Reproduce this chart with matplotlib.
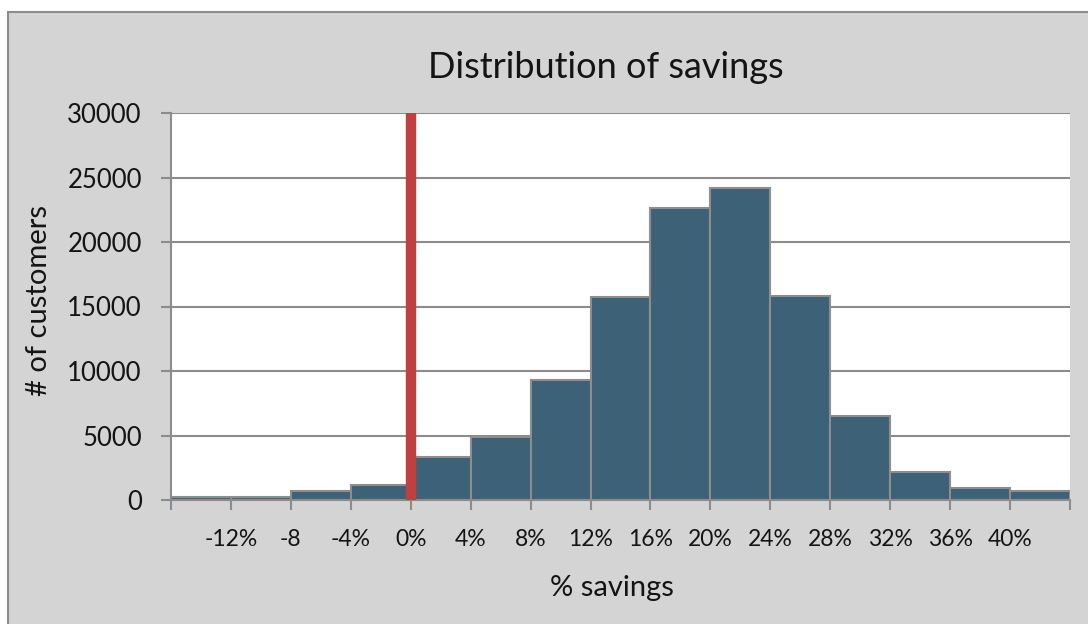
import numpy as np
import matplotlib.pyplot as plt
from matplotlib.patches import Rectangle

# histogram of customer savings, bins of 4 percentage points
bin_edges = [-16, -12, -8, -4, 0, 4, 8, 12, 16, 20, 24, 28, 32, 36, 40, 44]
counts = [200, 250, 700, 1200, 3300, 4900, 9300, 15700, 22600, 24200, 15800, 6500, 2150, 900, 700]
tick_labels = ['-12%', '-8', '-4%', '0%', '4%', '8%', '12%', '16%', '20%', '24%', '28%', '32%', '36%', '40%']
y_ticks = [0, 5000, 10000, 15000, 20000, 25000, 30000]

plt.rcParams['font.family'] = ['Lato', 'DejaVu Sans']
txt = '#141414'

W, H = 1088, 624
fig = plt.figure(figsize=(W / 100, H / 100), dpi=100)
fig.patch.set_facecolor('white')
# grey chart panel
fig.patches.append(Rectangle((8 / W, -0.01), 1.1, 1 - 12 / H + 0.01,
                             transform=fig.transFigure, facecolor='#d4d4d4',
                             edgecolor='#8c8c8c', linewidth=1.5, zorder=-10))

ax = fig.add_axes([171 / W, 1 - 500 / H, (1070 - 171) / W, (500 - 113) / H])
ax.set_facecolor('white')

lefts = np.array(bin_edges[:-1])
widths = np.diff(bin_edges)
ax.bar(lefts, counts, width=widths, align='edge', color='#3d6176',
       edgecolor='#8e8e8e', linewidth=1.5, zorder=2)

# zero line
ax.plot([0, 0], [0, 30000], color='#c0403f', linewidth=7.5, solid_capstyle='butt', zorder=3)

ax.set_xlim(bin_edges[0], bin_edges[-1])
ax.set_ylim(0, 30000)
ax.set_yticks(y_ticks)
ax.set_yticklabels([str(v) for v in y_ticks], fontsize=18.5, color=txt)
ax.set_xticks(bin_edges)
ax.set_xticklabels([''] + tick_labels + [''], fontsize=16.5, color=txt)
ax.grid(axis='y', color='#8c8c8c', linewidth=1.5, zorder=1)
ax.set_axisbelow(True)

for s in ['top', 'right']:
    ax.spines[s].set_visible(False)
for s in ['left', 'bottom']:
    ax.spines[s].set_color('#8c8c8c')
    ax.spines[s].set_linewidth(1.5)
ax.tick_params(axis='both', color='#8c8c8c', width=1.5, length=7)
ax.tick_params(axis='x', pad=14)
ax.tick_params(axis='y', pad=14)

fig.text(606 / W, 1 - 68 / H, 'Distribution of savings', fontsize=26, color=txt,
         ha='center', va='center')
fig.text(612 / W, 1 - 588 / H, '% savings', fontsize=21, color=txt,
         ha='center', va='center')
fig.text(39 / W, 1 - 300 / H, '# of customers', fontsize=21, color=txt,
         ha='center', va='center', rotation=90)

fig.savefig('out.png', dpi=100, facecolor=fig.get_facecolor())
